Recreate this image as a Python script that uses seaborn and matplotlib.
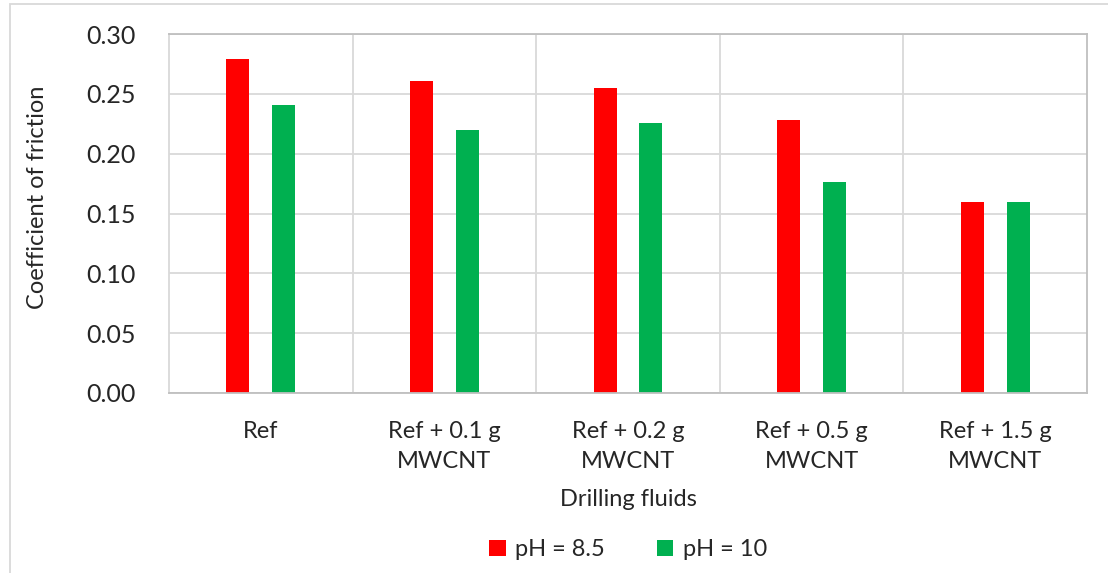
import matplotlib
matplotlib.use("Agg")
import matplotlib.pyplot as plt
import seaborn as sns
import pandas as pd
from matplotlib.patches import Rectangle

fluids = ["Ref", "Ref + 0.1 g\nMWCNT", "Ref + 0.2 g\nMWCNT", "Ref + 0.5 g\nMWCNT", "Ref + 1.5 g\nMWCNT"]
ph_85 = [0.279, 0.261, 0.255, 0.228, 0.160]
ph_10 = [0.241, 0.220, 0.226, 0.176, 0.160]
series = ["pH = 8.5", "pH = 10"]

df = pd.DataFrame({
    "fluid": fluids * 2,
    "cof": ph_85 + ph_10,
    "ph": [series[0]] * len(fluids) + [series[1]] * len(fluids),
})

sns.set_theme(style="white")
plt.rcParams["font.family"] = ["Lato", "DejaVu Sans"]

fig = plt.figure(figsize=(11.08, 5.73), dpi=100)
ax = fig.add_axes([169 / 1108, 1 - 393 / 573, (1087 - 169) / 1108, (393 - 34) / 573])

sns.barplot(data=df, x="fluid", y="cof", hue="ph", order=fluids, hue_order=series,
            palette=["#ff0000", "#00b050"], width=0.5, gap=0.5, saturation=1,
            edgecolor="none", ax=ax)

ax.set_ylim(0, 0.30)
ax.set_xlim(-0.5, len(fluids) - 0.5)
ax.set_yticks([i * 0.05 for i in range(7)])
ax.set_yticklabels([f"{i * 0.05:.2f}" for i in range(7)], fontsize=18)
ax.set_xticks(range(len(fluids)))
ax.set_xticklabels(fluids, fontsize=17, linespacing=1.55)
ax.tick_params(axis="x", length=0, pad=20)
ax.tick_params(axis="y", length=0, pad=24)
ax.yaxis.grid(True, color="#d9d9d9", lw=1.3)
for k in range(1, len(fluids)):
    ax.axvline(k - 0.5, color="#d9d9d9", lw=1.3, zorder=0)
ax.set_axisbelow(True)
for s in ax.spines.values():
    s.set_color("#bfbfbf")
    s.set_linewidth(1.3)
ax.spines["left"].set_color("#d9d9d9")

ax.set_xlabel("Drilling fluids", fontsize=17, labelpad=12)
ax.set_ylabel("Coefficient of friction", fontsize=17)
ax.yaxis.set_label_coords(-0.132, 0.546)

ax.legend(loc="center", bbox_to_anchor=(0.5, -0.437), ncol=2, frameon=False,
          fontsize=17, handlelength=0.7, handleheight=0.7, columnspacing=2.2,
          handletextpad=0.4)

fig.patches.append(Rectangle((10 / 1108, -0.1), 1.2, 1 - 4 / 573 + 0.1,
                             transform=fig.transFigure, fill=False,
                             edgecolor="#d9d9d9", lw=1.3))

fig.savefig("out.png", dpi=100)
